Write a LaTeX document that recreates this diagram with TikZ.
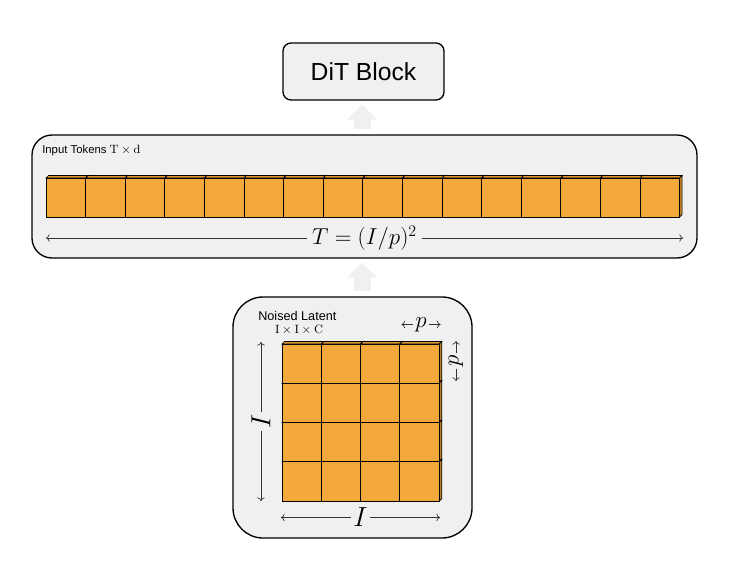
\documentclass[tikz,border=0pt]{standalone}
\usepackage[no-math]{fontspec}
\setmainfont{Liberation Sans}
\usepackage{amsmath,amssymb}
\usepackage{tikz}
\usetikzlibrary{arrows.meta,positioning}

\definecolor{patchfront}{HTML}{F5A93D}
\definecolor{patchtop}{HTML}{DF9632}
\definecolor{patchside}{HTML}{B97A24}
\definecolor{panelgray}{HTML}{F0F0F0}
\definecolor{flowgray}{HTML}{F1F0F1}

\tikzset{
  panel/.style={draw=black, line width=1pt, fill=panelgray},
  flow/.style={draw=flowgray, line width=12.75pt, -{Triangle[width=22.5pt,length=11.25pt]}},
  span/.style={<->, line width=0.5pt, black!80},
  spanlabel/.style={fill=panelgray, text=black, inner sep=2pt}
}

% one patch of the latent, seen as a thin block (top left corner, width, height)
\newcommand{\patchback}[4]{%
  \filldraw[fill=patchtop, line width=0.5pt] (#1,#2) -- ++(2.5,-2.5) -- ++(#3,0) -- ++(-2.5,2.5) -- cycle;
  \filldraw[fill=patchside, line width=0.5pt] (#1+#3,#2) -- ++(2.5,-2.5) -- ++(0,#4) -- ++(-2.5,2.5) -- cycle;}
\newcommand{\patchfront}[4]{%
  \filldraw[fill=patchfront, line width=0.7pt] (#1,#2) rectangle ++(#3,#4);}

\begin{document}
\begin{tikzpicture}[x=0.75pt, y=-0.75pt]
  \useasboundingbox (0,0) rectangle (734,568);

  % the three boxes
  \node[panel, rounded corners=6pt, minimum width=120.75pt, minimum height=42.75pt,
        font=\fontsize{18.5}{20}\selectfont] (dit) at (363.5,71.5) {DiT Block};
  \node[panel, rounded corners=15pt, minimum width=498.75pt, minimum height=92.25pt] (tokens) at (364.5,196.5) {};
  \node[panel, rounded corners=22.5pt, minimum width=179.25pt, minimum height=180.75pt] (latent) at (352.5,417.5) {};

  % flow upwards
  \coordinate (flowx) at (362,0);
  \draw[flow, shorten <=3.75pt, shorten >=3pt] (latent.north -| flowx) -- (tokens.south -| flowx);
  \draw[flow, shorten <=3.75pt, shorten >=3pt] (tokens.north -| flowx) -- (dit.south -| flowx);

  % token row
  \node[anchor=west, inner sep=0pt, font=\fontsize{8.5}{10}\selectfont] (toklabel) at (42,151)
    {Input Tokens {\fontsize{9.5}{10}\selectfont$\mathrm{T}\times\mathrm{d}$}};
  \foreach \i in {0,...,15} {
    \patchback{46+\i*39.6}{178}{39.6}{39}
  }
  \foreach \i in {0,...,15} {
    \patchfront{46+\i*39.6}{178}{39.6}{39}
  }
  \coordinate (tokL) at (46,238);
  \coordinate (tokR) at (683,238);
  \draw[span] (tokL) -- (tokR) node[midway, spanlabel, inner sep=4pt, font=\fontsize{16.5}{17}\selectfont] (tokeq) {$T=(I/p)^2$};

  % latent grid
  \node[anchor=west, inner sep=0pt, font=\fontsize{9.5}{11}\selectfont] (latlabel) at (258,315.5) {Noised Latent};
  \node[inner sep=0pt, font=\fontsize{9.5}{10}\selectfont] (latdim) at (299,329.5) {$\mathrm{I}\times\mathrm{I}\times\mathrm{C}$};
  \foreach \r in {0,...,3} {
    \foreach \c in {0,...,3} {
      \patchback{282+\c*39.3}{344+\r*39.3}{39.3}{39.3}
    }
  }
  \foreach \r in {0,...,3} {
    \foreach \c in {0,...,3} {
      \patchfront{282+\c*39.3}{344+\r*39.3}{39.3}{39.3}
    }
  }

  % sizes
  \coordinate (lefttop) at (261,342);
  \coordinate (leftbot) at (261,501);
  \draw[span] (lefttop) -- (leftbot) node[midway, spanlabel, rotate=90, font=\fontsize{20}{21}\selectfont] (sideI) {$I$};
  \coordinate (botL) at (281,517.5);
  \coordinate (botR) at (440,517.5);
  \draw[span] (botL) -- (botR) node[midway, spanlabel, font=\fontsize{20}{21}\selectfont] (botI) {$I$};
  \coordinate (pL) at (401.5,324.5);
  \coordinate (pR) at (440.5,324.5);
  \draw[span] (pL) -- (pR) node[midway, spanlabel, inner sep=2pt, font=\fontsize{17}{18}\selectfont] (topp) {$p$};
  \coordinate (pT) at (456,341);
  \coordinate (pB) at (456,381);
  \draw[span] (pT) -- (pB) node[midway, spanlabel, inner sep=2pt, rotate=90, font=\fontsize{17}{18}\selectfont] (sidep) {$p$};
\end{tikzpicture}
\end{document}
